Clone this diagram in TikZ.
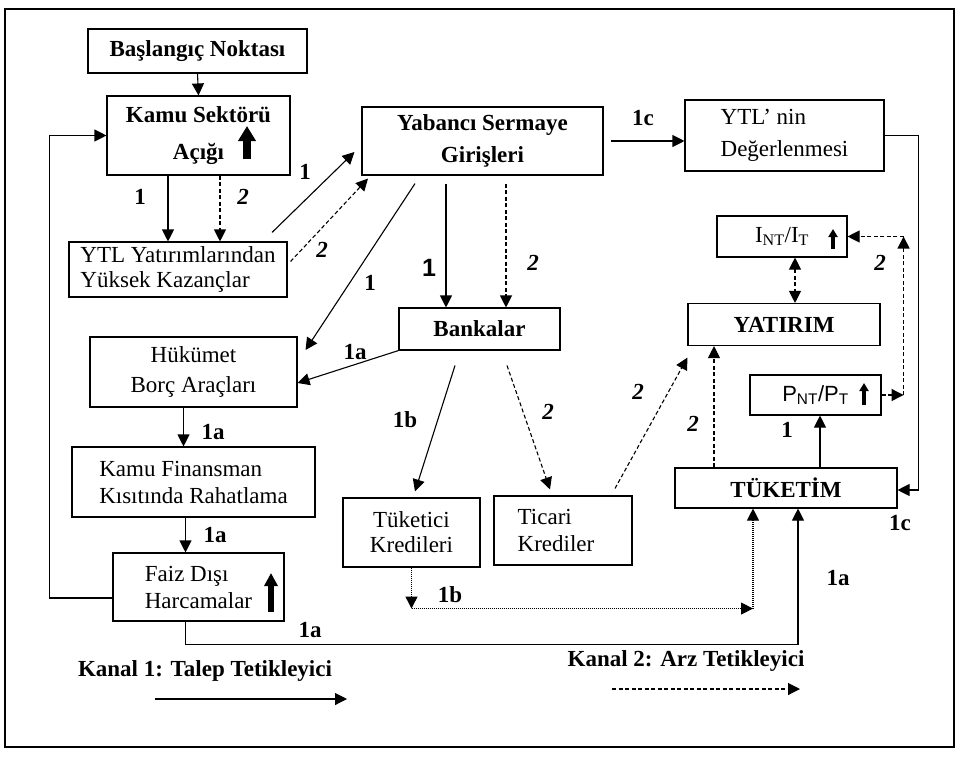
\documentclass[tikz,border=0pt]{standalone}
\usepackage{fontspec}
\setmainfont{Liberation Serif}
\newfontfamily\arialf{Liberation Sans}
\usetikzlibrary{arrows.meta,calc}
\newcommand\myfn{\fontsize{23}{27}\selectfont}
\newcommand\myfb{\fontsize{23}{27}\selectfont\bfseries}
\newcommand\myfbi{\fontsize{23}{27}\selectfont\bfseries\itshape}
\newcommand\myfs{\fontsize{22}{27}\selectfont\arialf}
\begin{document}
\begin{tikzpicture}[x=1pt,y=-1pt,
  box/.style={draw, line width=1.1pt, inner sep=0pt, align=center, font=\myfn},
  bbox/.style={box, font=\myfb},
  arr/.style={line width=1.1pt, -{Triangle[length=12pt,width=12pt]}},
  dsh/.style={dash pattern=on 4pt off 2.5pt},
  dot/.style={dash pattern=on 1pt off 1pt},
  lab/.style={font=\myfb, inner sep=0pt},
  labi/.style={font=\myfbi, inner sep=0pt},
  upbig/.style={line width=8pt, -{Triangle[length=15pt,width=17pt]}},
  upmed/.style={line width=6pt, -{Triangle[length=13pt,width=13pt]}},
  upsm/.style={line width=4pt, -{Triangle[length=8pt,width=9pt]}}]
\useasboundingbox (0,0) rectangle (966,761);
\draw[line width=1.4pt] (5,9) rectangle (954,747);

% boxes
\node[bbox, minimum width=219pt, minimum height=44pt] (bas) at (197.5,51) {Başlangıç Noktası};
\node[bbox, minimum width=183pt, minimum height=79pt] (kamu) at (198.5,135.5) {Kamu Sektörü\\[10pt]Açığı};
\node[box, align=left, minimum width=218pt, minimum height=55pt] (ytl) at (178,269.5) {YTL Yatırımlarından\\[-2pt]Yüksek Kazançlar};
\node[bbox, minimum width=241pt, minimum height=68pt] (yab) at (482.5,141) {Yabancı Sermaye\\[5pt]Girişleri};
\node[box, align=left, minimum width=199pt, minimum height=71pt] (nin) at (784.5,135.5) {YTL’ nin\\[5pt]Değerlenmesi};
\node[box, minimum width=130pt, minimum height=41pt] (int) at (782,236.5) {I\textsubscript{NT}/I\textsubscript{T}};
\node[bbox, minimum width=192pt, minimum height=42pt] (yat) at (784,324.5) {YATIRIM};
\node[box, font=\myfs, minimum width=131pt, minimum height=40pt] (pnt) at (815.5,395) {P\textsubscript{NT}/P\textsubscript{T}};
\node[bbox, minimum width=222pt, minimum height=40pt] (tuk) at (786,488) {TÜKETİM};
\node[bbox, minimum width=161pt, minimum height=42pt] (bank) at (479.5,329) {Bankalar};
\node[box, minimum width=207pt, minimum height=70pt] (huk) at (193.5,372) {Hükümet\\[3pt]Borç Araçları};
\node[box, align=left, minimum width=243pt, minimum height=70pt] (kfin) at (193.5,482) {Kamu Finansman\\Kısıtında Rahatlama};
\node[box, align=left, minimum width=171pt, minimum height=68pt] (faiz) at (198.5,587) {Faiz Dışı\\Harcamalar};
\node[box, minimum width=137pt, minimum height=69pt] (tkr) at (411.5,532.5) {Tüketici\\[-2pt]Kredileri};
\node[box, align=left, minimum width=138pt, minimum height=69pt] (tic) at (563,530.5) {Ticari\\Krediler\hspace*{14pt}};

% thick up arrows inside boxes
\draw[upbig] (247,159) -- (247,126);
\draw[upmed] (271,612) -- (271,573);
\draw[upsm] (833,249) -- (833,229);
\draw[upsm] (864,405) -- (864,383);

% connectors
\draw[arr] (bas.south) -- (kamu.north);
\draw[arr] ($(kamu.south)+(-30.5,0)$) -- ($(ytl.north)+(-10,0)$);
\draw[arr,dsh] ($(kamu.south)+(21.5,0)$) -- ($(ytl.north)+(42,0)$);
\draw[arr] ($(ytl.north)+(94,-9)$) -- ($(yab.west)+(-7,11)$);
\draw[arr,dsh] ($(ytl.east)+(3,-8)$) -- ($(yab.south)+(-114.5,3)$);
\draw[arr] ($(yab.south)+(-67.5,8)$) -- ($(huk.east)+(8,-22)$);
\draw[arr] ($(yab.south)+(-36.5,8)$) -- ($(bank.north)+(-33.5,0)$);
\draw[arr,dsh] ($(yab.south)+(23.5,8)$) -- ($(bank.north)+(26.5,0)$);
\draw[arr] ($(yab.east)+(7,0)$) -- ($(nin.west)+(0,5.5)$);
\draw[arr] (bank.south west) -- ($(huk.east)+(0,11)$);
\draw[arr] ($(bank.south)+(-24.5,15)$) -- ($(tkr.north)+(3.5,-6)$);
\draw[arr,dsh] ($(bank.south)+(27.5,15)$) -- ($(tic.north)+(-13,-6)$);
\draw[arr,dsh] ($(tic.north)+(52,-7)$) -- ($(yat.west)+(0,33)$);
\draw[arr,dsh] ($(tuk.north)+(-72,0)$) -- ($(yat.south)+(-70,0)$);
\draw[arr] ($(tuk.north)+(34,0)$) -- ($(pnt.south)+(4.5,0)$);
\draw[line width=1.1pt, dsh, {Triangle[length=12pt,width=12pt]}-{Triangle[length=12pt,width=12pt]}] ($(int.south)+(13,0)$) -- ($(yat.north)+(11,0)$);
\coordinate (c1) at ($(pnt.east)+(22,0)$);
\coordinate (c2) at ($(int.east)+(56,0)$);
\draw[arr,dsh] (pnt.east) -- (c1);
\draw[arr,dsh] (c1) -- (c2);
\draw[arr,dsh] (c2) -- (int.east);
\draw[arr] (nin.east) -| ($(tuk.east)+(21,2)$) -- ($(tuk.east)+(0,2)$);
\coordinate (d1) at ($(tkr.south)+(0,41)$);
\coordinate (d2) at ($(tuk.south)+(-33,100)$);
\draw[arr,dot] (tkr.south) -- (d1);
\draw[arr,dot] (d1) -- (d2);
\draw[arr,dot] (d2) -- ($(tuk.south)+(-33,0)$);
\draw[arr] ($(faiz.south)+(-13,0)$) |- ($(tuk.south)+(12,136)$) -- ($(tuk.south)+(12,0)$);
\draw[arr] ($(faiz.west)+(0,11)$) -| ($(kamu.west)+(-57,0)$) -- (kamu.west);
\draw[arr] ($(huk.south)+(-10,0)$) -- ($(kfin.north)+(-10,0)$);
\draw[arr] ($(kfin.south)+(-8,0)$) -- ($(faiz.north)+(-13,0)$);

% labels
\node[lab] (l1) at (140,197) {1};
\node[labi] (l2) at (243,197) {2};
\node[lab] (l3) at (305,172) {1};
\node[labi] (l4) at (322,250) {2};
\node[lab] (l5) at (370,283) {1};
\node[lab, font=\fontsize{25}{29}\selectfont\arialf\bfseries] (l6) at (429,268) {1};
\node[labi] (l7) at (533,263) {2};
\node[lab] (l8) at (643,118) {1c};
\node[lab] (l9) at (355,352) {1a};
\node[lab] (l10) at (405,420) {1b};
\node[labi] (l11) at (548,412) {2};
\node[labi] (l12) at (638,392) {2};
\node[labi] (l13) at (693,424) {2};
\node[lab] (l14) at (787,430) {1};
\node[labi] (l15) at (880,263) {2};
\node[lab] (l16) at (900,523) {1c};
\node[lab] (l17) at (450,595) {1b};
\node[lab] (l18) at (310,630) {1a};
\node[lab] (l19) at (838,578) {1a};
\node[lab] (l20) at (213,432) {1a};
\node[lab] (l21) at (215,535) {1a};

% legend
\node[lab] (k1) at (205,671) {Kanal 1: Talep Tetikleyici};
\node[lab] (k2) at (686,661) {Kanal 2: Arz Tetikleyici};
\coordinate (la1) at (155,699);
\coordinate (la2) at (347,699);
\coordinate (lb1) at (612,689);
\coordinate (lb2) at (800,689);
\draw[arr] (la1) -- (la2);
\draw[arr,dsh] (lb1) -- (lb2);
\end{tikzpicture}
\end{document}
